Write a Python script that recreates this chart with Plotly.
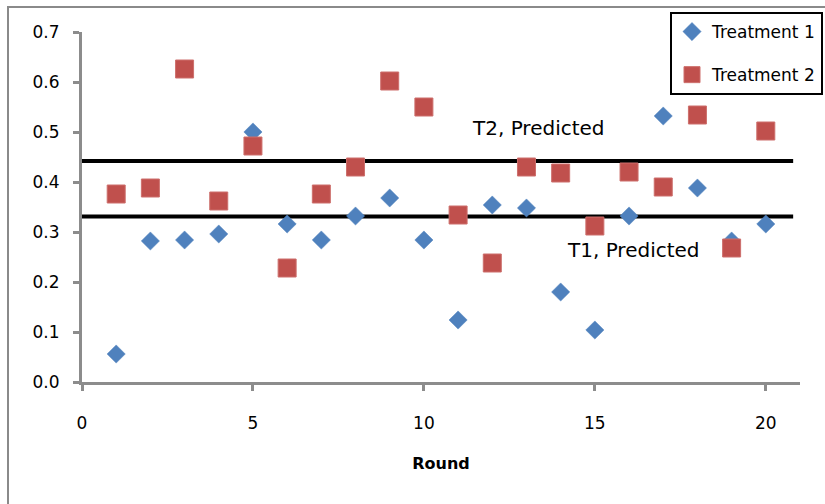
import plotly.graph_objects as go

rounds = list(range(1, 21))
treatment1 = [0.056, 0.282, 0.284, 0.296, 0.500, 0.316, 0.284, 0.332, 0.368, 0.284,
              0.124, 0.354, 0.348, 0.180, 0.104, 0.332, 0.532, 0.388, 0.282, 0.316]
treatment2 = [0.376, 0.388, 0.626, 0.362, 0.472, 0.228, 0.376, 0.430, 0.602, 0.550,
              0.334, 0.238, 0.430, 0.418, 0.312, 0.420, 0.390, 0.534, 0.268, 0.502]
pred_x = [0, 20.8]
t1_pred = 0.331
t2_pred = 0.442
pred_labels = ["T1, Predicted", "T2, Predicted"]

FONT = "DejaVu Sans"
AXIS_GRAY = "#8c8c8c"

fig = go.Figure()
fig.add_trace(go.Scatter(x=pred_x, y=[t2_pred, t2_pred], mode="lines",
                         line=dict(color="black", width=4), showlegend=False, hoverinfo="skip"))
fig.add_trace(go.Scatter(x=pred_x, y=[t1_pred, t1_pred], mode="lines",
                         line=dict(color="black", width=4), showlegend=False, hoverinfo="skip"))
fig.add_trace(go.Scatter(x=rounds, y=treatment1, mode="markers", name="Treatment 1",
                         legendgroup="a",
                         marker=dict(symbol="diamond", size=14, color="#4F81BD",
                                     line=dict(color="#4F81BD", width=0.5))))
fig.add_trace(go.Scatter(x=rounds, y=treatment2, mode="markers", name="Treatment 2",
                         legendgroup="b",
                         marker=dict(symbol="square", size=18, color="#C0504D",
                                     line=dict(color="#CD6F6C", width=1))))

fig.add_annotation(x=13.36, y=0.508, text=pred_labels[1], showarrow=False,
                   font=dict(family=FONT, size=20, color="black"))
fig.add_annotation(x=16.14, y=0.264, text=pred_labels[0], showarrow=False,
                   font=dict(family=FONT, size=20, color="black"))

# outer chart border
fig.add_shape(type="rect", xref="paper", yref="paper",
              x0=(8 - 82) / 718, x1=(840 - 82) / 718,
              y0=-(140 / 350), y1=1 + 25 / 350,
              line=dict(color="#8a8a8a", width=2), fillcolor="rgba(0,0,0,0)", layer="below")

fig.update_layout(
    width=825, height=504,
    margin=dict(l=82, r=25, t=32, b=122, autoexpand=False),
    paper_bgcolor="white", plot_bgcolor="white",
    font=dict(family=FONT, size=17, color="black"),
    legend=dict(x=(670 - 82) / 718, y=1 + 20 / 350, xanchor="left", yanchor="top",
                bordercolor="black", borderwidth=2, bgcolor="white",
                tracegroupgap=18, traceorder="grouped",
                font=dict(family=FONT, size=17)),
    xaxis=dict(range=[0, 21], dtick=5, tick0=0, showgrid=False, zeroline=False,
               showline=True, linecolor=AXIS_GRAY, linewidth=3,
               ticks="outside", ticklen=6, tickwidth=3, tickcolor=AXIS_GRAY,
               ticklabelstandoff=18,
               title=dict(text="<b>Round</b>", font=dict(family=FONT, size=16), standoff=26)),
    yaxis=dict(range=[0, 0.7], dtick=0.1, tick0=0, tickformat=".1f", showgrid=False,
               zeroline=False, showline=True, linecolor=AXIS_GRAY, linewidth=3,
               ticks="outside", ticklen=6, tickwidth=3, tickcolor=AXIS_GRAY,
               ticklabelstandoff=10),
)

fig.write_html("out.html")
